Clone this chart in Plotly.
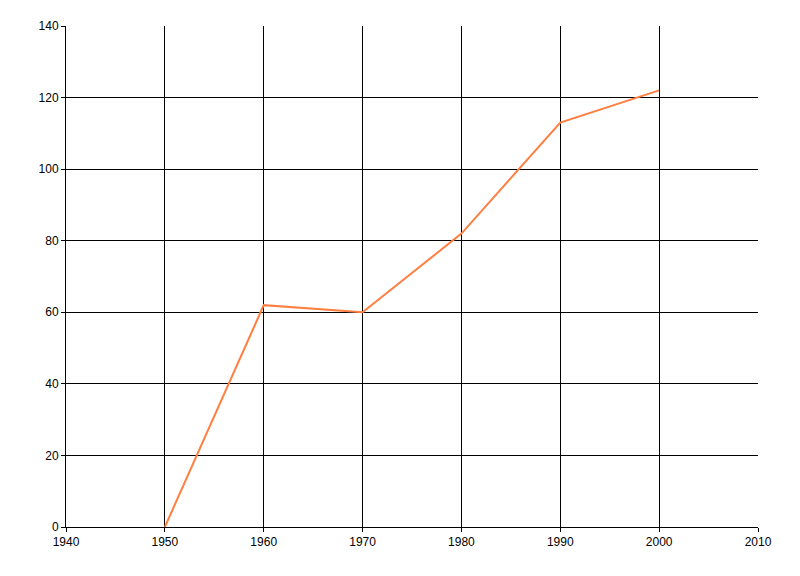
import plotly.graph_objects as go

years = [1950, 1960, 1970, 1980, 1990, 2000]
values = [0, 62, 60, 82, 113, 122]

fig = go.Figure()

fig.add_trace(go.Scatter(
    x=years,
    y=values,
    mode='lines',
    line=dict(color='#FF7F40', width=2),
    showlegend=False
))

axis_style = dict(
    showgrid=True,
    gridcolor='black',
    gridwidth=1,
    zeroline=False,
    showline=True,
    linecolor='black',
    linewidth=1,
    ticks='outside',
    ticklen=4,
    tickcolor='black',
    tickfont=dict(size=12, color='black'),
)

# page body has an 8px margin, so the plot box is offset by that
fig.update_layout(
    width=800,
    height=576,
    margin=dict(l=58, r=50, t=18, b=57),
    paper_bgcolor='white',
    plot_bgcolor='white',
    font=dict(family='Liberation Sans, Arial, sans-serif', size=12, color='black'),
    xaxis=dict(range=[1940, 2010], dtick=10, tick0=1940, **axis_style),
    yaxis=dict(range=[0, 140], dtick=20, tick0=0, **axis_style),
)

fig.write_html('out.html')
